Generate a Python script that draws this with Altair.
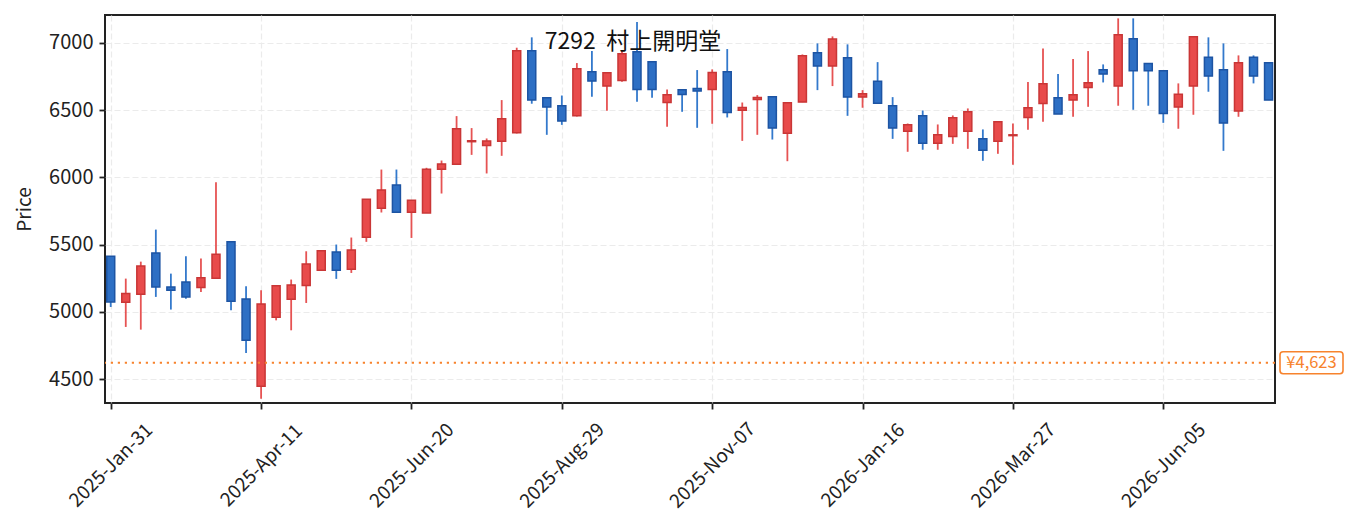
import altair as alt
import pandas as pd

TITLE = "7292\u00a0\u00a0村上開明堂"
FONT = "Noto Sans CJK JP"

start_date = "2025-01-31"
n_weeks = 78
opens = [5414,5072,5132,5439,5186,5223,5181,5251,5521,5097,4448,4961,5094,5196,5310,5446,5317,5555,5771,5944,
         5741,5736,6061,6098,6265,6237,6269,6331,6941,6591,6532,6457,6784,6678,6720,6933,6859,6556,6651,6660,
         6653,6784,6499,6579,6599,6328,6559,6926,6827,6888,6596,6713,6532,6343,6457,6254,6304,6343,6286,6269,
         6310,6445,6549,6591,6574,6668,6799,6678,7030,6846,6792,6522,6678,6893,6799,6492,6893,6851]
closes = [5075,5137,5342,5186,5161,5112,5255,5429,5080,4790,5060,5194,5201,5357,5454,5310,5461,5838,5907,5741,
          5830,6061,6100,6361,6272,6271,6435,6941,6574,6522,6418,6807,6715,6777,6918,6653,6653,6613,6616,6641,
          6779,6482,6519,6594,6366,6554,6903,6827,7027,6596,6621,6551,6366,6390,6254,6316,6442,6487,6202,6413,
          6316,6517,6695,6470,6613,6703,6767,7059,6792,6792,6475,6618,7045,6752,6403,6851,6752,6574]
highs = [5414,5248,5374,5612,5285,5414,5397,5964,5521,5191,5161,5194,5241,5451,5454,5501,5553,5838,6058,6058,
         5830,6071,6125,6455,6366,6289,6574,6963,7040,6591,6608,6849,6938,6777,6938,7154,6859,6653,6651,6797,
         6802,6953,6556,6611,6599,6554,6913,6995,7047,6988,6648,6856,6596,6400,6497,6393,6460,6512,6356,6413,
         6400,6708,6958,6767,6879,6938,6839,7181,7181,6846,6792,6698,7045,7040,6995,6906,6906,6851]
lows = [5037,4889,4869,5112,5018,5099,5149,5245,5013,4695,4356,4938,4864,5067,5310,5246,5290,5521,5739,5741,
        5550,5736,5880,6098,6167,6029,6160,6326,6547,6316,6390,6452,6599,6494,6710,6561,6591,6376,6487,6368,
        6398,6445,6271,6316,6281,6120,6559,6648,6678,6457,6517,6551,6286,6190,6205,6205,6249,6212,6123,6175,
        6093,6353,6413,6470,6450,6524,6705,6532,6502,6532,6405,6361,6465,6636,6197,6450,6698,6574]

tick_dates = ["2025-01-31", "2025-04-11", "2025-06-20", "2025-08-29", "2025-11-07",
              "2026-01-16", "2026-03-27", "2026-06-05"]
y_ticks = [4500, 5000, 5500, 6000, 6500, 7000]
ref_price = 4623
ref_label = "¥4,623"

dates = pd.date_range(start_date, periods=n_weeks, freq="7D")
df = pd.DataFrame({
    "date": dates.strftime("%Y-%m-%d"),
    "open": opens, "close": closes, "high": highs, "low": lows,
})
df["dir"] = ["up" if c >= o else "down" for o, c in zip(opens, closes)]
ref_df = pd.DataFrame({"price": [ref_price], "label": [ref_label]})
title_df = pd.DataFrame({"t": [TITLE]})

RED_FILL, RED_STROKE, RED_WICK = "#e84b4b", "#c93636", "#e65353"
BLUE_FILL, BLUE_STROKE, BLUE_WICK = "#2d6fc4", "#1d54a3", "#3379cc"
ORANGE = "#f7832d"
INK = "#222222"

def dt(s, h=0):
    y, m, d = map(int, s.split("-"))
    return alt.DateTime(year=y, month=m, date=d, hours=h, utc=True)

W, H = 1170, 388
xscale = alt.Scale(type="utc", domain=[dt("2025-01-28", 8), dt("2026-07-27")], padding=0, nice=False)
yscale = alt.Scale(domain=[4324, 7206], nice=False, zero=False, padding=0)

xaxis = alt.Axis(values=[dt(s) for s in tick_dates], format="%Y-%b-%d", labelAngle=-45,
                 labelAlign="center", labelBaseline="middle", labelPadding=56,
                 tickSize=6, tickWidth=1.8, tickColor=INK, domain=False,
                 grid=True, gridDash=[6, 3], gridColor="#ebebeb", gridWidth=1.2,
                 labelFontSize=19, labelFont=FONT, labelColor=INK, title=None,
                 labelFlush=False, labelOverlap=False)
yaxis = alt.Axis(values=y_ticks, format="d", tickSize=6, tickWidth=1.8, tickColor=INK,
                 domain=False, grid=True, gridDash=[6, 3], gridColor="#ebebeb", gridWidth=1.2,
                 labelFontSize=20, labelFont=FONT, labelColor=INK, labelPadding=6,
                 title="Price", titleFont=FONT, titleFontSize=19, titleFontWeight="normal",
                 titleColor=INK, titleX=-81, titleY=H / 2, titleAngle=270,
                 titleAlign="center", titleBaseline="middle")

base = alt.Chart(df).encode(x=alt.X("date:T", scale=xscale, axis=xaxis))

wicks = base.mark_rule(strokeWidth=1.8).encode(
    y=alt.Y("low:Q", scale=yscale, axis=yaxis),
    y2="high:Q",
    color=alt.Color("dir:N", scale=alt.Scale(domain=["up", "down"], range=[RED_WICK, BLUE_WICK]), legend=None),
)
bodies = base.mark_bar(size=8, strokeWidth=1.5).encode(
    y="open:Q",
    y2="close:Q",
    fill=alt.Fill("dir:N", scale=alt.Scale(domain=["up", "down"], range=[RED_FILL, BLUE_FILL]), legend=None),
    stroke=alt.Stroke("dir:N", scale=alt.Scale(domain=["up", "down"], range=[RED_STROKE, BLUE_STROKE]), legend=None),
)

ref_line = alt.Chart(ref_df).mark_rule(strokeDash=[2.2, 4.8], strokeWidth=2.2, color=ORANGE).encode(
    y=alt.Y("price:Q", scale=yscale)
)
box_path = ("M-0.9,-0.35L0.9,-0.35Q1,-0.35 1,-0.25L1,0.25Q1,0.35 0.9,0.35"
            "L-0.9,0.35Q-1,0.35 -1,0.25L-1,-0.25Q-1,-0.35 -0.9,-0.35Z")
ref_box = alt.Chart(ref_df).mark_point(shape=box_path, size=63 * 63, filled=True, fill="white",
                                       stroke=ORANGE, strokeWidth=1.6, opacity=1, clip=False).encode(
    x=alt.value(W + 36.5), y=alt.Y("price:Q", scale=yscale)
)
ref_text = alt.Chart(ref_df).mark_text(font=FONT, fontSize=16.5, color=ORANGE, align="center",
                                       baseline="middle", clip=False).encode(
    x=alt.value(W + 36.5), y=alt.Y("price:Q", scale=yscale), text="label:N"
)
title = alt.Chart(title_df).mark_text(font=FONT, fontSize=23, color="#111111", align="center",
                                      baseline="alphabetic").encode(
    x=alt.value(528), y=alt.value(33.5), text="t:N"
)

chart = alt.layer(wicks, bodies, ref_line, ref_box, ref_text, title).properties(
    width=W, height=H,
    autosize=alt.AutoSizeParams(type="none"),
    padding={"left": 97, "top": 7, "right": 70, "bottom": 115},
    background="white",
).configure_view(stroke=INK, strokeWidth=2)

chart.save("out.html", embed_options={"renderer": "svg", "actions": False})
